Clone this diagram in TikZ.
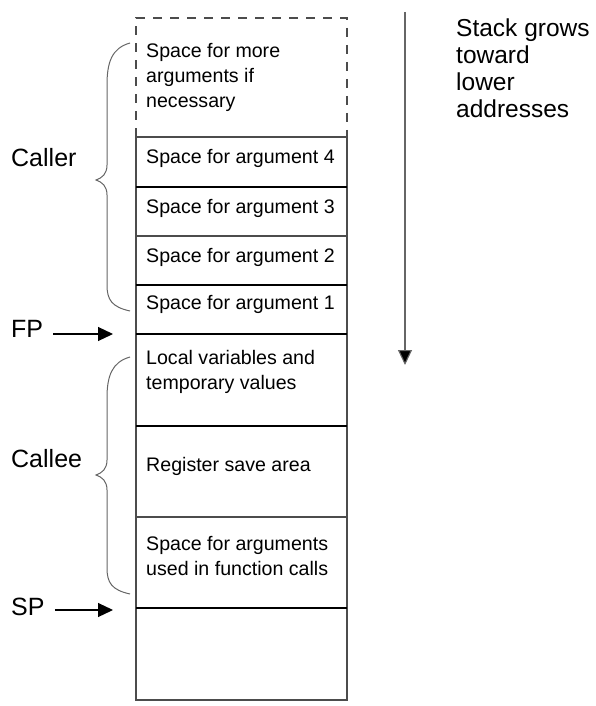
\documentclass[tikz,border=0pt]{standalone}
\usepackage{fontspec}
\setmainfont{Liberation Sans}
\usetikzlibrary{arrows.meta}
\begin{document}
\begin{tikzpicture}[x=1pt,y=-1pt,
  cell/.style={draw=black!70, line width=1.1pt, rectangle, inner sep=0pt, outer sep=0pt, minimum width=211pt, anchor=north west},
  celltext/.style={anchor=west, inner sep=0pt, align=left, font=\fontsize{19.6}{25}\selectfont},
  biglabel/.style={anchor=west, inner sep=0pt, font=\fontsize{25}{27}\selectfont},
  ptr/.style={line width=1.2pt, -{Triangle[length=15pt,width=14pt]}},
  bracepath/.style={draw=black!60, line width=1pt},
  strong/.style={line width=1.6pt, black}
]
\useasboundingbox (0,0) rectangle (595,706);
% cells
\node[cell, draw=none, minimum height=119pt] (more) at (136,18) {};
\draw[black!70, line width=1.1pt, dash pattern=on 9pt off 8pt] (more.south west) -- (more.north west) -- (more.north east) -- (more.south east);
\node[cell, minimum height=50pt] (a4) at (136,137) {};
\node[cell, minimum height=49pt] (a3) at (136,187) {};
\node[cell, minimum height=49pt] (a2) at (136,236) {};
\node[cell, minimum height=49pt] (a1) at (136,285) {};
\node[cell, minimum height=92pt] (loc) at (136,334) {};
\node[cell, minimum height=91pt] (reg) at (136,426) {};
\node[cell, minimum height=91pt] (fa) at (136,517) {};
\node[cell, minimum height=92pt] (emp) at (136,608) {};
\draw[strong] (a4.south west) -- (a4.south east);
\draw[strong] (a2.south west) -- (a2.south east);
\draw[strong] (a1.south west) -- (a1.south east);
\draw[strong] (loc.south west) -- (loc.south east);
\draw[strong] (fa.south west) -- (fa.south east);
% cell texts
\node[celltext] (tmore) at (146,77) {Space for more\\arguments if\\necessary};
\node[celltext] (t4) at (146,158) {Space for argument 4};
\node[celltext] (t3) at (146,208) {Space for argument 3};
\node[celltext] (t2) at (146,257) {Space for argument 2};
\node[celltext] (t1) at (146,304) {Space for argument 1};
\node[celltext] (tloc) at (146,372) {Local variables and\\temporary values};
\node[celltext] (treg) at (146,466) {Register save area};
\node[celltext] (tfa) at (146,556) {Space for arguments\\used in function calls};
% labels
\node[biglabel] (caller) at (11,158) {Caller};
\node[biglabel] (callee) at (11,459) {Callee};
\node[biglabel] (fp) at (11,329) {FP};
\node[biglabel] (sp) at (11,607) {SP};
\node[biglabel, anchor=north west, align=left, font=\fontsize{24.5}{27}\selectfont] (grow) at (456,19) {Stack grows\\toward\\lower\\addresses};
% pointers
\coordinate (fpend) at (113,334);
\coordinate (spend) at (113,610);
\draw[ptr] ([xshift=10pt]fp.east |- fpend) -- (fpend);
\draw[ptr] ([xshift=10pt]sp.east |- spend) -- (spend);
\coordinate (gtop) at (405,12);
\coordinate (gbot) at (405,365);
\draw[line width=1.1pt, draw=black!60, -{Triangle[length=15pt,width=14pt,fill=black]}] (gtop) -- (gbot);
% braces
\draw[bracepath] (130,43) .. controls (112,48) and (107,62) .. (107,85) -- (107,165)
  .. controls (107,174) and (102,178) .. (96,180) .. controls (102,182) and (107,186) .. (107,195)
  -- (107,285) .. controls (107,300) and (112,307) .. (130,311);
\draw[bracepath] (130,357) .. controls (112,362) and (107,376) .. (107,398) -- (107,460)
  .. controls (107,469) and (102,473) .. (96,475) .. controls (102,477) and (107,481) .. (107,490)
  -- (107,568) .. controls (107,583) and (112,590) .. (130,594);
\end{tikzpicture}
\end{document}
